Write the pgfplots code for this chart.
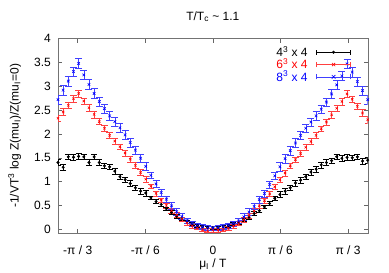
\documentclass[border=0pt]{standalone}
\usepackage{fontspec}
\setmainfont{Liberation Sans}
\usepackage{pgfplots}
\pgfplotsset{compat=1.18}
\usepackage{pgfplotstable}

\pgfplotstableread{
x k ke r re b be
-1.20 1.40 0.06 2.33 0.07 2.72 0.10
-1.16 1.30 0.06 2.46 0.07 2.92 0.10
-1.12 1.52 0.06 2.60 0.07 3.11 0.10
-1.08 1.51 0.06 2.74 0.07 3.31 0.10
-1.04 1.53 0.06 2.85 0.07 3.48 0.10
-1.00 1.52 0.06 2.69 0.07 3.24 0.10
-0.96 1.40 0.06 2.55 0.07 3.04 0.10
-0.92 1.52 0.06 2.41 0.07 2.85 0.10
-0.88 1.40 0.06 2.26 0.06 2.68 0.09
-0.84 1.33 0.06 2.12 0.06 2.53 0.09
-0.80 1.31 0.06 1.97 0.06 2.38 0.09
-0.76 1.22 0.06 1.85 0.06 2.26 0.09
-0.72 1.10 0.06 1.73 0.06 2.13 0.09
-0.68 1.04 0.06 1.60 0.06 1.98 0.09
-0.64 0.96 0.06 1.47 0.06 1.82 0.09
-0.60 0.87 0.06 1.34 0.06 1.66 0.09
-0.56 0.80 0.06 1.19 0.06 1.49 0.09
-0.52 0.76 0.06 1.05 0.06 1.32 0.09
-0.48 0.66 0.04 0.90 0.05 1.13 0.07
-0.44 0.58 0.04 0.75 0.05 0.95 0.07
-0.40 0.52 0.04 0.61 0.05 0.77 0.07
-0.36 0.43 0.04 0.50 0.05 0.63 0.07
-0.32 0.35 0.04 0.39 0.05 0.49 0.07
-0.28 0.27 0.04 0.30 0.05 0.37 0.07
-0.24 0.22 0.04 0.21 0.05 0.27 0.07
-0.20 0.16 0.03 0.13 0.04 0.18 0.05
-0.16 0.11 0.03 0.07 0.04 0.12 0.05
-0.12 0.08 0.03 0.03 0.04 0.08 0.05
-0.08 0.05 0.03 -0.01 0.04 0.05 0.05
-0.04 0.04 0.03 -0.03 0.04 0.03 0.05
0.00 0.03 0.03 -0.02 0.04 0.02 0.05
0.04 0.03 0.03 -0.02 0.04 0.03 0.05
0.08 0.05 0.03 -0.01 0.04 0.05 0.05
0.12 0.07 0.03 0.02 0.04 0.08 0.05
0.16 0.11 0.03 0.07 0.04 0.12 0.05
0.20 0.14 0.03 0.12 0.04 0.17 0.05
0.24 0.20 0.04 0.20 0.05 0.26 0.07
0.28 0.25 0.04 0.29 0.05 0.36 0.07
0.32 0.33 0.04 0.38 0.05 0.48 0.07
0.36 0.39 0.04 0.49 0.05 0.62 0.07
0.40 0.47 0.04 0.60 0.05 0.75 0.07
0.44 0.54 0.04 0.74 0.05 0.94 0.07
0.48 0.65 0.04 0.89 0.05 1.12 0.07
0.52 0.73 0.06 1.04 0.06 1.31 0.09
0.56 0.80 0.06 1.18 0.06 1.48 0.09
0.60 0.87 0.06 1.33 0.06 1.65 0.09
0.64 0.97 0.06 1.46 0.06 1.81 0.09
0.68 1.03 0.06 1.59 0.06 1.97 0.09
0.72 1.10 0.06 1.72 0.06 2.12 0.09
0.76 1.20 0.06 1.84 0.06 2.25 0.09
0.80 1.26 0.06 1.97 0.06 2.38 0.09
0.84 1.35 0.06 2.11 0.06 2.52 0.09
0.88 1.40 0.06 2.25 0.06 2.67 0.09
0.92 1.44 0.06 2.40 0.07 2.84 0.10
0.96 1.52 0.06 2.54 0.07 3.03 0.10
1.00 1.49 0.06 2.68 0.07 3.22 0.10
1.04 1.51 0.06 2.84 0.07 3.47 0.10
1.08 1.50 0.06 2.73 0.07 3.30 0.10
1.12 1.52 0.06 2.58 0.07 3.10 0.10
1.16 1.43 0.06 2.44 0.07 2.91 0.10
1.20 1.45 0.06 2.30 0.07 2.72 0.10
}\datatab

\begin{document}
\begin{tikzpicture}[font=\fontsize{12bp}{14bp}\selectfont]
\useasboundingbox (-58bp,-40bp) rectangle (331bp,233bp);
\begin{axis}[
  at={(0,0)}, anchor=south west,
  width=309.7bp, height=194.3bp, scale only axis,
  xmin=-1.2, xmax=1.2, ymin=-0.08, ymax=4,
  xtick={-1.047198,-0.523599,0,0.523599,1.047198},
  xticklabels={-π / 3, -π / 6, 0, π / 6, π / 3},
  ytick={0,0.5,1,1.5,2,2.5,3,3.5,4},
  yticklabels={0,0.5,1,1.5,2,2.5,3,3.5,4},
  axis line style={black!55},
  tick style={black!60, line width=0.5bp},
  major tick length=4bp,
  xticklabel style={anchor=base, yshift=-21bp, inner sep=0pt},
  yticklabel style={anchor=east, inner sep=0pt, xshift=-7bp},
  title={T/T\textsubscript{c} \textasciitilde{} 1.1},
  title style={at={(axis description cs:0.5,1)}, anchor=base, yshift=12.7bp, inner sep=0pt},
  xlabel={μ\textsubscript{I} / T},
  xlabel style={at={(axis description cs:0.5,0)}, anchor=base, yshift=-34.5bp, inner sep=0pt},
  ylabel={-1/VT\textsuperscript{3} log Z(mu\textsubscript{I})/Z(mu\textsubscript{I}=0)},
  ylabel style={at={(axis description cs:-0.1275,0.5)}, anchor=base, inner sep=0pt},
  legend style={at={(axis description cs:1,1)}, anchor=north east, xshift=-16.7bp, yshift=-7.5bp,
    draw=none, fill=none, inner sep=0pt, row sep=0.6bp, nodes={inner sep=0pt}},
  legend plot pos=right, legend cell align=right,
]
\addplot[black, only marks, mark=*, mark size=1.3bp,
  legend image code/.code={
    \path (0bp,0bp);
    \draw[black, line width=0.45bp] (8.7bp,0bp) -- (42.7bp,0bp);
    \draw[black, line width=0.45bp] (8.7bp,-2.5bp) -- (8.7bp,2.5bp) (42.7bp,-2.5bp) -- (42.7bp,2.5bp);
    \fill[black] (25.7bp,0bp) circle (1.3bp);},
  error bars/.cd, y dir=both, y explicit,
  error bar style={line width=0.45bp, black},
  error mark options={rotate=90, mark size=3bp, line width=0.45bp, black},
  ] table[x=x, y=k, y error=ke]{\datatab};
\addlegendentry{4\textsuperscript{3} x 4}
\addplot[red, only marks, mark=x, mark size=1.6bp, mark options={line width=0.6bp},
  legend image code/.code={
    \path (0bp,0bp);
    \draw[red!75, line width=0.45bp] (8.7bp,0bp) -- (42.7bp,0bp);
    \draw[red!75, line width=0.45bp] (8.7bp,-2.5bp) -- (8.7bp,2.5bp) (42.7bp,-2.5bp) -- (42.7bp,2.5bp);
    \draw[red, line width=0.6bp] (24.1bp,-1.6bp) -- (27.3bp,1.6bp) (24.1bp,1.6bp) -- (27.3bp,-1.6bp);},
  error bars/.cd, y dir=both, y explicit,
  error bar style={line width=0.45bp, red!75},
  error mark options={rotate=90, mark size=3.2bp, line width=0.45bp, red!75},
  ] table[x=x, y=r, y error=re]{\datatab};
\addlegendentry{\textcolor{red}{6\textsuperscript{3} x 4}}
\addplot[blue, only marks, mark=x, mark size=1.8bp, mark options={line width=0.6bp},
  legend image code/.code={
    \path (0bp,0bp);
    \draw[blue!75, line width=0.45bp] (8.7bp,0bp) -- (42.7bp,0bp);
    \draw[blue!75, line width=0.45bp] (8.7bp,-2.5bp) -- (8.7bp,2.5bp) (42.7bp,-2.5bp) -- (42.7bp,2.5bp);
    \draw[blue, line width=0.6bp] (23.9bp,-1.8bp) -- (27.5bp,1.8bp) (23.9bp,1.8bp) -- (27.5bp,-1.8bp);},
  error bars/.cd, y dir=both, y explicit,
  error bar style={line width=0.45bp, blue!75},
  error mark options={rotate=90, mark size=3.5bp, line width=0.45bp, blue!75},
  ] table[x=x, y=b, y error=be]{\datatab};
\addlegendentry{\textcolor{blue}{8\textsuperscript{3} x 4}}
\end{axis}
\end{tikzpicture}
\end{document}
